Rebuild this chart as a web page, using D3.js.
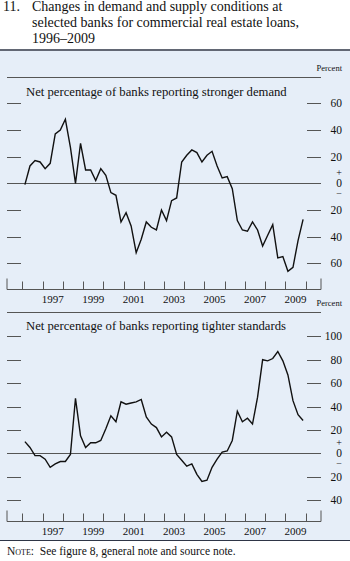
<!DOCTYPE html>
<html>
<head>
<meta charset="utf-8">
<script src="https://cdn.jsdelivr.net/npm/d3@7"></script>
<style>
  html, body { margin: 0; padding: 0; background: #fff; }
  svg { display: block; }
  text { font-family: "Liberation Serif", "Times New Roman", serif; fill: #111; }
</style>
</head>
<body>
<script>
// Quarterly survey results, 1996:Q1 through 2009:Q4 (net percentages)
const startYear = 1996;
const demand = [
  -1, 13, 17, 16, 11, 15, 37, 40, 48, 27, 0, 30, 10, 10, 2, 11, 6, -7, -9, -29,
  -22, -32, -52, -42, -29, -33, -35, -20, -28, -13, -11, 16, 21, 25, 23, 16, 21, 24, 13, 4,
  5, -4, -28, -35, -36, -29, -35, -47, -39, -31, -56, -55, -66, -63, -43, -27
];
const standards = [
  10, 5, -2, -2, -5, -12, -9, -7, -7, -1, 47, 15, 5, 9, 9, 11, 21, 32, 27, 44,
  42, 43, 44, 46, 31, 25, 22, 14, 18, 14, -1, -6, -11, -9, -18, -24, -23, -12, -5, 1,
  2, 11, 36, 27, 30, 25, 48, 80, 79, 81, 87, 79, 67, 45, 33, 28
];
const yearLabels = [1997, 1999, 2001, 2003, 2005, 2007, 2009];
const topTicks = [60, 40, 20, 0, -20, -40, -60];
const bottomTicks = [100, 80, 60, 40, 20, 0, -20, -40];
const titleLines = [
  "Changes in demand and supply conditions at",
  "selected banks for commercial real estate loans,",
  "1996\u20132009"
];

const W = 350, H = 561;
const svg = d3.select("body").append("svg").attr("width", W).attr("height", H);

const panelColor = "#e6eef8";
const ruleColor = "#2e3546";
const gridColor = "#555";

// Title
svg.append("text").attr("x", 3).attr("y", 11).attr("font-size", 14).text("11.");
titleLines.forEach((t, i) => {
  svg.append("text").attr("x", 32).attr("y", 11 + i * 16).attr("font-size", 14).text(t);
});

// Shaded chart area bounded by dark rules
svg.append("rect").attr("x", 0).attr("y", 51).attr("width", W).attr("height", 489).attr("fill", panelColor);
svg.append("line").attr("x1", 0).attr("x2", W).attr("y1", 50).attr("y2", 50)
  .attr("stroke", ruleColor).attr("stroke-width", 1.5);
svg.append("line").attr("x1", 0).attr("x2", W).attr("y1", 540.5).attr("y2", 540.5)
  .attr("stroke", ruleColor).attr("stroke-width", 1.2);

// Shared time scale
const x = d3.scaleLinear().domain([1995.24, 2010.76]).range([7, 321]);
const qTime = i => startYear + (i + 0.5) / 4;

function drawPanel(cfg) {
  const g = svg.append("g");
  const y = cfg.y;
  const [x0, x1] = x.range();

  // separator above the panel
  g.append("line").attr("x1", x0).attr("x2", x1).attr("y1", cfg.sepY).attr("y2", cfg.sepY)
    .attr("stroke", gridColor).attr("stroke-width", 1);

  g.append("text").attr("x", 342).attr("y", cfg.sepY - 7).attr("text-anchor", "end")
    .attr("font-size", 8.5).text("Percent");

  g.append("text").attr("x", 26).attr("y", cfg.subY).attr("font-size", 12.7).text(cfg.subtitle);

  // value ticks on both sides
  cfg.ticks.filter(v => v !== 0).forEach(v => {
    const yy = Math.round(y(v)) + 0.5;
    g.append("line").attr("x1", x0).attr("x2", x0 + 14).attr("y1", yy).attr("y2", yy)
      .attr("stroke", gridColor).attr("stroke-width", 1);
    g.append("line").attr("x1", x1 - 14).attr("x2", x1).attr("y1", yy).attr("y2", yy)
      .attr("stroke", gridColor).attr("stroke-width", 1);
    g.append("text").attr("x", 342).attr("y", y(v)).attr("dy", "0.35em")
      .attr("text-anchor", "end").attr("font-size", 11.5).text(Math.abs(v));
  });

  // zero line with +/− marker
  const y0 = Math.round(y(0)) + 0.5;
  g.append("line").attr("x1", x0).attr("x2", x1).attr("y1", y0).attr("y2", y0)
    .attr("stroke", gridColor).attr("stroke-width", 1);
  g.append("text").attr("x", 339).attr("y", y(0)).attr("dy", "0.35em")
    .attr("text-anchor", "middle").attr("font-size", 11.5).text("0");
  g.append("text").attr("x", 339).attr("y", y(0) - 11).attr("dy", "0.35em")
    .attr("text-anchor", "middle").attr("font-size", 10).text("+");
  g.append("text").attr("x", 339).attr("y", y(0) + 10).attr("dy", "0.35em")
    .attr("text-anchor", "middle").attr("font-size", 10).text("\u2212");

  // time axis: year boundaries as ticks, labels at mid-year
  const ay = cfg.axisY;
  g.append("line").attr("x1", x0).attr("x2", x1).attr("y1", ay).attr("y2", ay)
    .attr("stroke", gridColor).attr("stroke-width", 1);
  d3.range(1996, 2011).forEach(yr => {
    const xx = Math.round(x(yr)) + 0.5;
    g.append("line").attr("x1", xx).attr("x2", xx).attr("y1", ay).attr("y2", ay - 8)
      .attr("stroke", gridColor).attr("stroke-width", 1);
  });
  [x0, x1].forEach(xx => {
    g.append("line").attr("x1", xx).attr("x2", xx).attr("y1", ay).attr("y2", ay - 11)
      .attr("stroke", gridColor).attr("stroke-width", 1);
  });
  yearLabels.forEach(yr => {
    g.append("text").attr("x", x(yr + 0.5)).attr("y", ay + 13).attr("text-anchor", "middle")
      .attr("font-size", 11).text(yr);
  });

  // data series
  const line = d3.line().x((d, i) => x(qTime(i))).y(d => y(d));
  g.append("path").datum(cfg.data).attr("d", line).attr("fill", "none")
    .attr("stroke", "#111").attr("stroke-width", 1.4).attr("stroke-linejoin", "miter");
}

drawPanel({
  data: demand,
  y: d3.scaleLinear().domain([-60, 60]).range([263.3, 103.3]),
  ticks: topTicks,
  sepY: 77.5,
  subY: 96,
  axisY: 289.5,
  subtitle: "Net percentage of banks reporting stronger demand"
});

drawPanel({
  data: standards,
  y: d3.scaleLinear().domain([-40, 100]).range([500.1, 336.3]),
  ticks: bottomTicks,
  sepY: 312.5,
  subY: 330,
  axisY: 521.5,
  subtitle: "Net percentage of banks reporting tighter standards"
});

// Note
const note = svg.append("text").attr("x", 7).attr("y", 555).attr("font-size", 11.5);
note.append("tspan").style("font-variant", "small-caps").text("Note:");
note.append("tspan").text("  See figure 8, general note and source note.").attr("xml:space", "preserve");
</script>
</body>
</html>
